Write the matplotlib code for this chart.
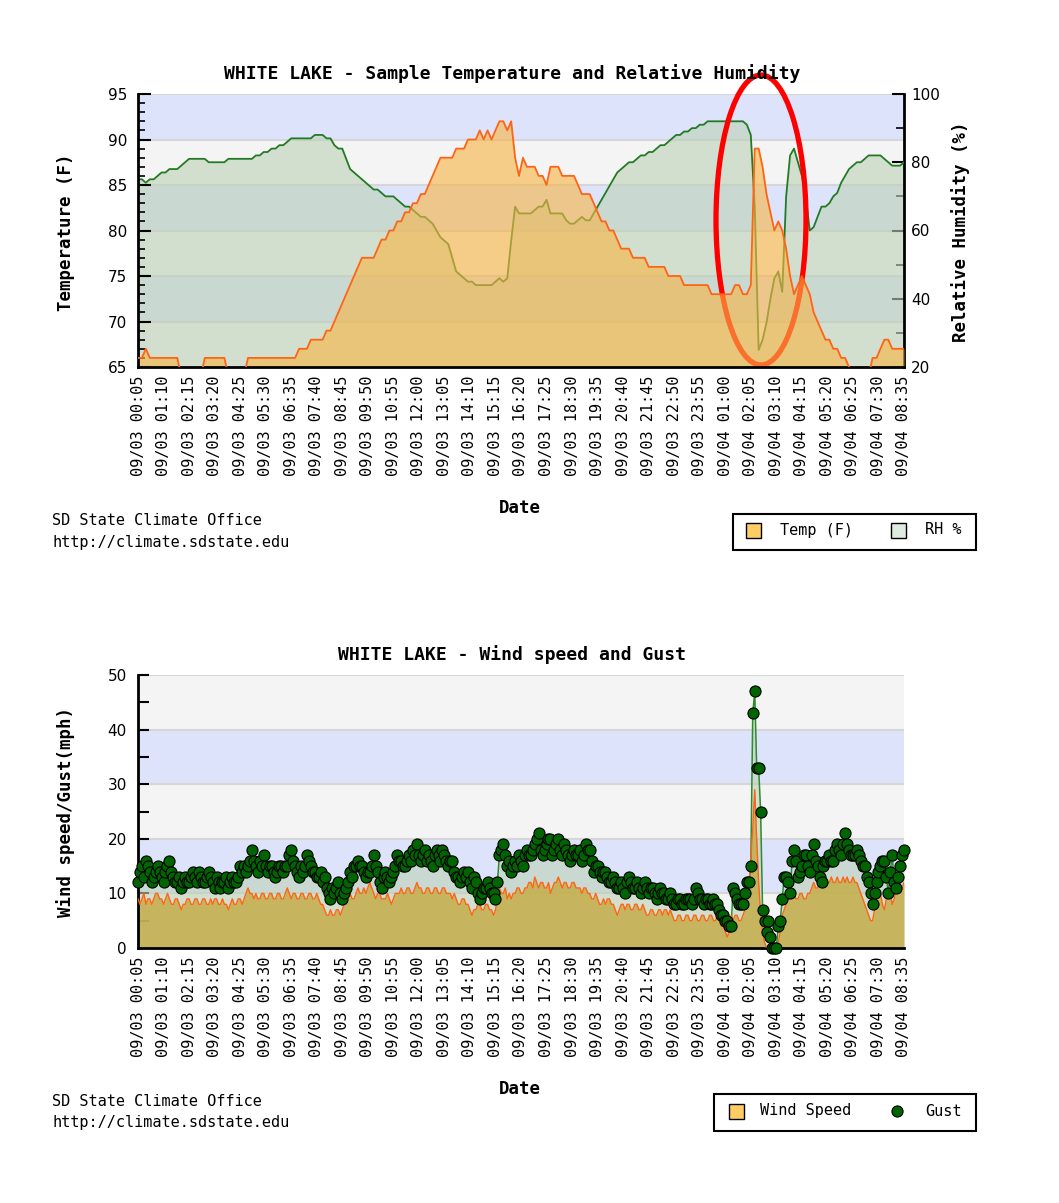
"""WHITE LAKE station charts: temperature / RH and wind speed / gust."""
import numpy as np
import matplotlib
matplotlib.use('Agg')
import matplotlib.pyplot as plt
from matplotlib.patches import Rectangle, Ellipse
from matplotlib.lines import Line2D
from matplotlib.transforms import blended_transform_factory

W, H = 1059, 1203
MONO = 'DejaVu Sans Mono'

# ---- data: readings every 10 min starting 09/03 00:05 ----
STEP_MIN = 10
TICK_EVERY_MIN = 65
TICK_LABELS = ['09/03 00:05', '09/03 01:10', '09/03 02:15', '09/03 03:20', '09/03 04:25',
               '09/03 05:30', '09/03 06:35', '09/03 07:40', '09/03 08:45', '09/03 09:50',
               '09/03 10:55', '09/03 12:00', '09/03 13:05', '09/03 14:10', '09/03 15:15',
               '09/03 16:20', '09/03 17:25', '09/03 18:30', '09/03 19:35', '09/03 20:40',
               '09/03 21:45', '09/03 22:50', '09/03 23:55', '09/04 01:00', '09/04 02:05',
               '09/04 03:10', '09/04 04:15', '09/04 05:20', '09/04 06:25', '09/04 07:30',
               '09/04 08:35']

TEMP_F = [66, 66, 67, 66, 66, 66, 66, 66, 66, 66,
          66, 64, 64, 64, 64, 64, 64, 66, 66, 66,
          66, 66, 66, 64, 64, 64, 64, 64, 66, 66,
          66, 66, 66, 66, 66, 66, 66, 66, 66, 66,
          66, 67, 67, 67, 68, 68, 68, 68, 69, 69,
          70, 71, 72, 73, 74, 75, 76, 77, 77, 77,
          77, 78, 79, 79, 80, 80, 81, 81, 82, 82,
          83, 83, 84, 84, 85, 86, 87, 88, 88, 88,
          88, 89, 89, 89, 90, 90, 90, 91, 90, 91,
          90, 91, 92, 92, 91, 92, 88, 86, 88, 87,
          87, 87, 86, 86, 85, 87, 87, 87, 86, 86,
          86, 86, 85, 84, 84, 84, 83, 82, 81, 81,
          80, 80, 79, 78, 78, 78, 77, 77, 77, 77,
          76, 76, 76, 76, 76, 75, 75, 75, 75, 74,
          74, 74, 74, 74, 74, 74, 73, 73, 73, 73,
          73, 73, 74, 74, 73, 73, 74, 89, 89, 87,
          84, 82, 80, 81, 80, 78, 75, 73, 74, 75,
          74, 73, 71, 70, 69, 68, 68, 67, 67, 66,
          66, 65, 64, 64, 64, 64, 64, 66, 66, 67,
          68, 68, 67, 67, 67, 67]

RH_PCT = [75, 75, 74, 75, 75, 76, 77, 77, 78, 78,
          78, 79, 80, 81, 81, 81, 81, 81, 80, 80,
          80, 80, 80, 81, 81, 81, 81, 81, 81, 81,
          82, 82, 83, 83, 84, 84, 85, 85, 86, 87,
          87, 87, 87, 87, 87, 88, 88, 88, 87, 87,
          85, 84, 84, 81, 78, 77, 76, 75, 74, 73,
          72, 72, 71, 70, 70, 70, 69, 68, 67, 67,
          66, 65, 64, 64, 63, 62, 60, 58, 57, 56,
          52, 48, 47, 46, 45, 45, 44, 44, 44, 44,
          44, 45, 46, 45, 46, 57, 67, 65, 65, 65,
          65, 66, 67, 67, 69, 65, 65, 65, 65, 63,
          62, 62, 63, 64, 63, 63, 65, 67, 69, 71,
          73, 75, 77, 78, 79, 80, 80, 81, 82, 82,
          83, 83, 84, 85, 85, 86, 87, 88, 88, 89,
          89, 90, 90, 91, 91, 92, 92, 92, 92, 92,
          92, 92, 92, 92, 92, 91, 88, 67, 25, 28,
          33, 40, 46, 48, 42, 70, 82, 84, 80, 76,
          70, 60, 61, 64, 67, 67, 68, 70, 71, 74,
          76, 78, 79, 80, 80, 81, 82, 82, 82, 82,
          81, 80, 79, 79, 79, 80]

# wind: readings on the 10-min marks and the readings 5 min after each mark
WIND_MPH = [9, 9, 8, 9, 9, 10, 9, 9, 9, 8,
            9, 7, 8, 9, 8, 9, 8, 9, 8, 8,
            9, 8, 8, 7, 9, 8, 9, 9, 11, 10,
            10, 9, 10, 9, 10, 9, 10, 9, 11, 9,
            10, 9, 10, 9, 10, 9, 9, 8, 6, 7,
            6, 7, 7, 9, 10, 9, 11, 10, 10, 12,
            10, 10, 9, 9, 9, 9, 10, 11, 10, 11,
            10, 12, 11, 10, 11, 10, 11, 10, 11, 10,
            9, 9, 8, 9, 8, 6, 7, 8, 7, 8,
            7, 7, 11, 10, 9, 9, 10, 11, 10, 11,
            12, 13, 11, 12, 11, 10, 12, 13, 11, 12,
            11, 12, 11, 10, 11, 10, 9, 9, 8, 8,
            9, 8, 6, 8, 7, 8, 7, 8, 7, 7,
            6, 7, 6, 7, 7, 6, 6, 5, 6, 5,
            6, 5, 6, 5, 6, 5, 6, 5, 5, 4,
            2, 6, 6, 5, 6, 8, 16, 29, 12, 3,
            0, 0, 0, 1, 6, 8, 9, 10, 9, 10,
            9, 10, 12, 11, 12, 13, 12, 12, 13, 12,
            12, 12, 13, 12, 10, 8, 6, 5, 9, 10,
            7, 11, 8, 11, 10, 12]
WIND_MID_MPH = [8, 10, 9, 8, 10, 9, 8, 10, 8, 9,
                8, 8, 9, 8, 9, 8, 9, 8, 9, 9,
                8, 9, 8, 8, 8, 9, 8, 10, 10, 9,
                9, 10, 9, 10, 9, 10, 9, 10, 10, 10,
                9, 10, 9, 10, 9, 10, 8, 7, 6, 6,
                7, 6, 8, 10, 9, 10, 10, 11, 11, 11,
                9, 10, 9, 10, 8, 10, 10, 10, 11, 10,
                11, 11, 10, 11, 10, 11, 10, 11, 10, 10,
                10, 8, 9, 8, 7, 7, 8, 7, 8, 7,
                6, 9, 10, 11, 10, 10, 11, 10, 11, 12,
                11, 12, 12, 11, 12, 11, 12, 12, 12, 11,
                12, 11, 11, 11, 10, 9, 10, 8, 9, 9,
                8, 7, 7, 8, 8, 7, 8, 7, 8, 6,
                7, 6, 7, 6, 7, 7, 5, 6, 5, 6,
                5, 6, 5, 6, 5, 6, 5, 6, 4, 3,
                3, 5, 6, 5, 7, 11, 22, 20, 6, 1,
                0, 0, 0, 3, 7, 9, 10, 9, 10, 9,
                10, 11, 11, 12, 12, 12, 13, 12, 12, 13,
                13, 12, 12, 11, 9, 7, 5, 7, 10, 8,
                9, 10, 9, 10, 11]

GUST_MPH = [12, 15, 16, 14, 13, 15, 13, 14, 16, 13,
            12, 11, 13, 12, 14, 12, 13, 12, 14, 12,
            13, 11, 12, 11, 13, 12, 15, 15, 15, 18,
            15, 16, 17, 14, 15, 13, 15, 14, 15, 18,
            15, 13, 14, 17, 15, 14, 13, 12, 11, 9,
            10, 12, 9, 11, 14, 15, 16, 15, 13, 14,
            17, 14, 11, 14, 12, 14, 17, 16, 15, 17,
            18, 19, 16, 18, 17, 15, 18, 16, 17, 15,
            16, 13, 12, 14, 14, 11, 12, 9, 11, 12,
            10, 9, 17, 19, 15, 14, 16, 17, 15, 18,
            17, 19, 21, 17, 19, 20, 18, 20, 17, 18,
            16, 18, 17, 16, 19, 18, 14, 15, 13, 14,
            12, 13, 11, 12, 10, 13, 11, 12, 10, 12,
            10, 11, 9, 11, 10, 9, 9, 8, 9, 8,
            9, 8, 11, 9, 8, 9, 8, 8, 7, 6,
            5, 4, 10, 8, 8, 12, 15, 47, 33, 7,
            3, 2, 0, 4, 9, 13, 10, 18, 13, 15,
            17, 14, 19, 15, 12, 16, 17, 16, 19, 17,
            21, 18, 17, 18, 16, 15, 12, 8, 12, 15,
            16, 10, 17, 11, 15, 18]
GUST_MID_MPH = [14, 13, 15, 12, 14, 14, 12, 15, 14, 12,
                13, 12, 12, 13, 13, 14, 12, 13, 13, 11,
                12, 12, 13, 12, 12, 13, 14, 14, 16, 16,
                14, 15, 15, 15, 14, 14, 15, 15, 17, 16,
                14, 15, 15, 16, 14, 13, 14, 13, 10, 11,
                11, 10, 10, 12, 13, 15, 15, 14, 14, 15,
                15, 12, 13, 13, 13, 15, 16, 15, 16, 16,
                17, 17, 17, 16, 16, 17, 17, 18, 16, 16,
                14, 13, 13, 13, 12, 13, 10, 10, 11, 11,
                10, 12, 18, 17, 16, 15, 15, 16, 17, 17,
                18, 20, 18, 18, 20, 17, 19, 18, 19, 17,
                17, 17, 18, 17, 18, 16, 15, 14, 14, 13,
                12, 12, 11, 11, 12, 12, 11, 11, 11, 11,
                11, 10, 10, 10, 9, 10, 8, 9, 8, 9,
                9, 9, 10, 9, 9, 8, 9, 8, 6, 5,
                4, 11, 9, 8, 10, 12, 43, 33, 25, 5,
                5, 0, 0, 5, 13, 12, 16, 16, 14, 17,
                15, 17, 16, 13, 15, 16, 16, 18, 18, 19,
                19, 17, 17, 17, 15, 13, 10, 10, 14, 16,
                13, 14, 12, 13, 17]

# ---- colours ----
BAND_BLUE = '#dde3fb'
BAND_GRAY = '#f4f4f4'
GRID_COL = '#d6d6d6'
TEMP_LINE = '#ff6414'
TEMP_FILL = '#f7b546'
RH_LINE = '#237a23'
RH_FILL = '#bcd1b5'
WIND_FILL = '#c4ae4a'
GUST_LINE = '#2e8b2e'
GUST_MARK = '#006400'
LEGEND_ORANGE = '#ffcc66'
LEGEND_GREEN = '#e0ebe0'


def box(l, t, r, b):
    return [l / W, 1 - b / H, (r - l) / W, (b - t) / H]


def ftext(x, y, s, **kw):
    fig.text(x / W, 1 - y / H, s, **kw)


def merge_halves(on_mark, mid):
    out = np.empty(len(on_mark) + len(mid))
    out[0::2] = on_mark
    out[1::2] = mid
    return out


def draw_bands(host, ref, lo, hi, step):
    tr = blended_transform_factory(host.transAxes, ref.transData)
    for k, v in enumerate(np.arange(lo, hi, step)):
        col = BAND_GRAY if k % 2 == 0 else BAND_BLUE
        host.add_patch(Rectangle((0, v), 1, step, transform=tr, facecolor=col,
                                 edgecolor='none', zorder=0))
    for v in np.arange(lo + step, hi + step / 2, step):
        host.add_line(Line2D([0, 1], [v, v], transform=tr, color=GRID_COL, lw=1.5, zorder=0.5))


def style_xaxis(ax, t_end):
    ticks = np.arange(len(TICK_LABELS)) * TICK_EVERY_MIN
    ax.set_xlim(0, t_end)
    ax.set_xticks(ticks)
    ax.set_xticklabels(TICK_LABELS, rotation=90, family=MONO, fontsize=11)
    ax.tick_params(axis='x', length=0, pad=6)


fig = plt.figure(figsize=(W / 100, H / 100), dpi=100)
t = np.arange(len(TEMP_F)) * STEP_MIN
t5 = np.arange(len(WIND_MPH) + len(WIND_MID_MPH)) * (STEP_MIN / 2)
wind = merge_halves(WIND_MPH, WIND_MID_MPH)
gust = merge_halves(GUST_MPH, GUST_MID_MPH)

# ---------------- top: temperature + RH ----------------
ax_t = fig.add_axes(box(138, 94, 904, 367))
ax_rh = ax_t.twinx()
ax_t.set_zorder(ax_rh.get_zorder() + 1)
ax_t.patch.set_visible(False)

draw_bands(ax_rh, ax_t, 65, 95, 5)
ax_rh.fill_between(t, RH_PCT, 0, color=RH_FILL, alpha=0.6, lw=0, zorder=2)
ax_rh.plot(t, RH_PCT, color=RH_LINE, lw=1.3, zorder=3)
ax_t.fill_between(t, TEMP_F, 60, color=TEMP_FILL, alpha=0.62, lw=0, zorder=2)
ax_t.plot(t, TEMP_F, color=TEMP_LINE, lw=1.3, zorder=3)

ax_t.set_ylim(65, 95)
ax_rh.set_ylim(20, 100)
style_xaxis(ax_t, t[-1])
ax_t.set_yticks(np.arange(65, 96, 5))
ax_t.set_yticks(np.arange(65, 96, 1), minor=True)
ax_rh.set_yticks(np.arange(20, 101, 20))
ax_rh.set_yticks(np.arange(20, 101, 10), minor=True)
ax_t.tick_params(axis='y', which='major', direction='in', length=9, width=1.5, labelsize=11, pad=8)
ax_t.tick_params(axis='y', which='minor', direction='in', length=5, width=1.2)
ax_rh.tick_params(axis='y', which='major', direction='in', length=9, width=1.5, labelsize=11, pad=5)
ax_rh.tick_params(axis='y', which='minor', direction='in', length=6, width=1.2)
for s in ('top', 'right'):
    ax_t.spines[s].set_visible(False)
for s in ('top', 'left', 'bottom'):
    ax_rh.spines[s].set_visible(False)
for s in ('left', 'bottom'):
    ax_t.spines[s].set_linewidth(2)
ax_rh.spines['right'].set_linewidth(2)

ftext(512, 74, 'WHITE LAKE - Sample Temperature and Relative Humidity', ha='center', va='center',
      family=MONO, weight='bold', fontsize=13)
ftext(66, 232, 'Temperature (F)', rotation=90, ha='center', va='center',
      family=MONO, weight='bold', fontsize=12.5)
ftext(961, 232, 'Relative Humidity (%)', rotation=90, ha='center', va='center',
      family=MONO, weight='bold', fontsize=12.5)
ftext(520, 508, 'Date', ha='center', va='center', family=MONO, weight='bold', fontsize=12.5)
ftext(52, 521, 'SD State Climate Office', ha='left', va='center', family=MONO, fontsize=11)
ftext(52, 542, 'http://climate.sdstate.edu', ha='left', va='center', family=MONO, fontsize=11)

# legend (top)
fig.add_artist(Rectangle((733 / W, 1 - 550 / H), 243 / W, 36 / H, transform=fig.transFigure,
                         facecolor='white', edgecolor='black', lw=1.5))
fig.add_artist(Rectangle((746 / W, 1 - 538 / H), 15 / W, 15 / H, transform=fig.transFigure,
                         facecolor=LEGEND_ORANGE, edgecolor='black', lw=1))
fig.add_artist(Rectangle((891 / W, 1 - 538 / H), 15 / W, 15 / H, transform=fig.transFigure,
                         facecolor=LEGEND_GREEN, edgecolor='black', lw=1))
ftext(780, 530, 'Temp (F)', ha='left', va='center', family=MONO, fontsize=11)
ftext(925, 530, 'RH %', ha='left', va='center', family=MONO, fontsize=11)

# red highlight around the storm passage
fig.add_artist(Ellipse((761 / W, 1 - 220 / H), 90 / W, 290 / H, transform=fig.transFigure,
                       fill=False, edgecolor='#ff0000', lw=3.8))

# ---------------- bottom: wind speed + gust ----------------
ax_w = fig.add_axes(box(138, 675, 904, 948))
draw_bands(ax_w, ax_w, 0, 50, 10)
ax_w.fill_between(t5, gust, 0, color=RH_FILL, alpha=0.6, lw=0, zorder=2)
ax_w.fill_between(t5, wind, 0, color=WIND_FILL, alpha=0.85, lw=0, zorder=2.5)
ax_w.plot(t5, gust, color=GUST_LINE, lw=1.1, zorder=3)
ax_w.plot(t5, wind, color=TEMP_LINE, lw=1.0, zorder=3.5)
ax_w.plot(t5, gust, ls='none', marker='o', ms=8, mfc=GUST_MARK, mec='black', mew=0.8,
          zorder=5, clip_on=False)

ax_w.set_ylim(0, 50)
style_xaxis(ax_w, t5[-1])
ax_w.set_yticks(np.arange(0, 51, 10))
ax_w.set_yticks(np.arange(0, 51, 5), minor=True)
ax_w.tick_params(axis='y', which='both', direction='in', length=8, width=1.5, labelsize=11, pad=8)
for s in ('top', 'right'):
    ax_w.spines[s].set_visible(False)
for s in ('left', 'bottom'):
    ax_w.spines[s].set_linewidth(2)

ftext(512, 655, 'WHITE LAKE - Wind speed and Gust', ha='center', va='center',
      family=MONO, weight='bold', fontsize=13)
ftext(66, 812, 'Wind speed/Gust(mph)', rotation=90, ha='center', va='center',
      family=MONO, weight='bold', fontsize=12.5)
ftext(520, 1089, 'Date', ha='center', va='center', family=MONO, weight='bold', fontsize=12.5)
ftext(52, 1102, 'SD State Climate Office', ha='left', va='center', family=MONO, fontsize=11)
ftext(52, 1123, 'http://climate.sdstate.edu', ha='left', va='center', family=MONO, fontsize=11)

# legend (bottom)
fig.add_artist(Rectangle((714 / W, 1 - 1131 / H), 262 / W, 37 / H, transform=fig.transFigure,
                         facecolor='white', edgecolor='black', lw=1.5))
fig.add_artist(Rectangle((729 / W, 1 - 1119 / H), 15 / W, 15 / H, transform=fig.transFigure,
                         facecolor=LEGEND_ORANGE, edgecolor='black', lw=1))
fig.add_artist(Line2D([897 / W], [1 - 1111 / H], transform=fig.transFigure, ls='none',
                      marker='o', ms=8, mfc=GUST_MARK, mec='black', mew=0.8))
ftext(760, 1111, 'Wind Speed', ha='left', va='center', family=MONO, fontsize=11)
ftext(925, 1111, 'Gust', ha='left', va='center', family=MONO, fontsize=11)

fig.savefig('out.png', dpi=100)
